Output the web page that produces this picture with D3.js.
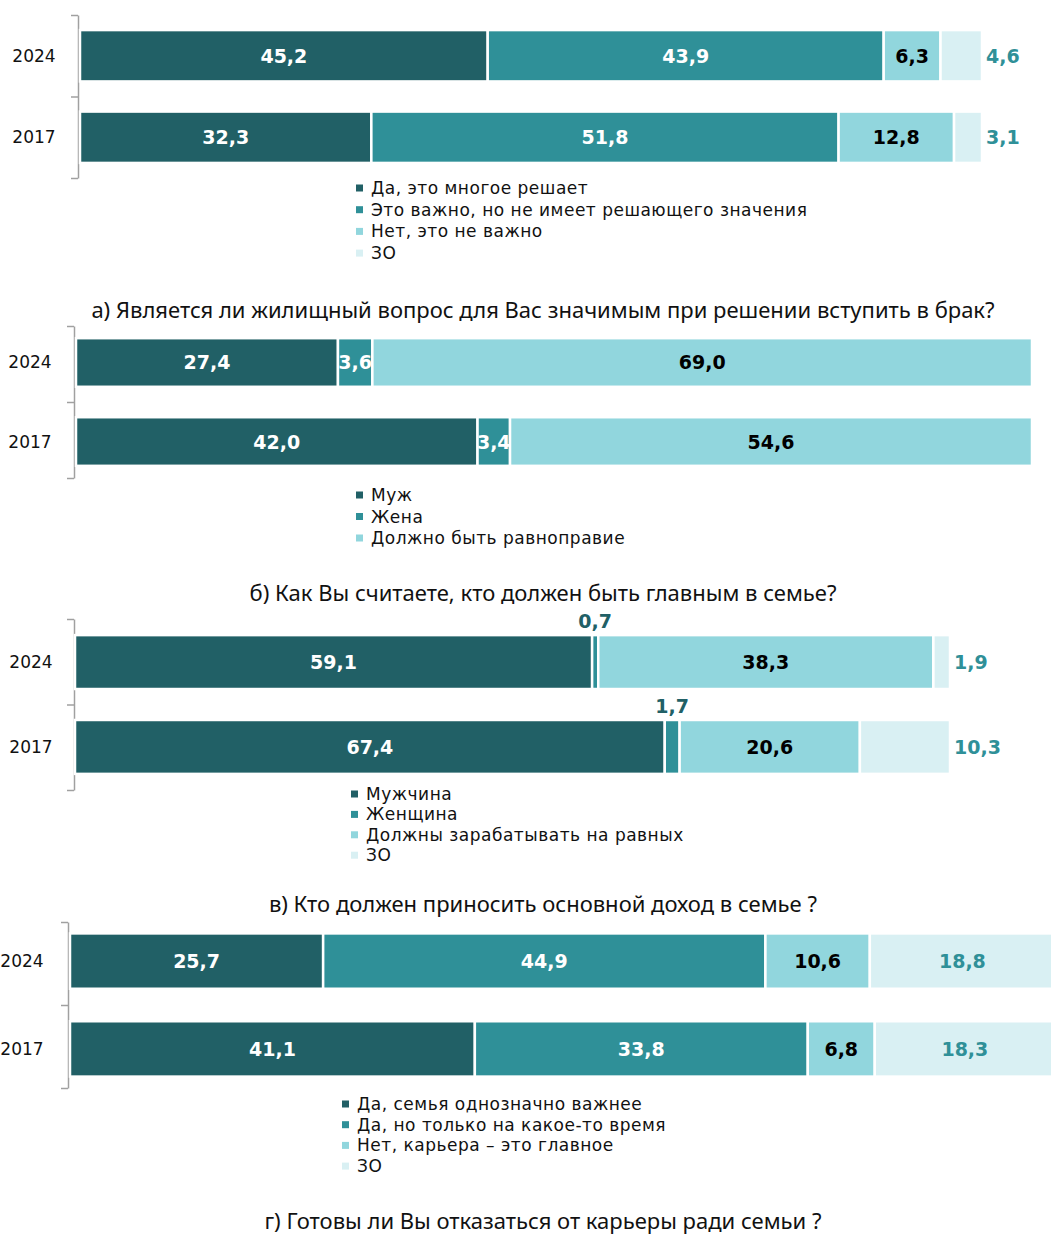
<!DOCTYPE html>
<html>
<head>
<meta charset="utf-8">
<script src="https://cdn.jsdelivr.net/npm/d3@7"></script>
<style>
  body { margin: 0; background: #fff; }
  svg text { font-family: "DejaVu Sans", Verdana, sans-serif; }
  .title { font-family: "Noto Sans", "Open Sans", sans-serif !important; }
</style>
</head>
<body>
<div id="chart"></div>
<script>
const years = ["2024", "2017"];
const colors = ["#216066", "#2f9098", "#91d6dd", "#d9f0f3"];

// panel a
const aTitle = "а) Является ли жилищный вопрос для Вас значимым при решении вступить в брак?";
const aCategories = ["Да, это многое решает", "Это важно, но не имеет решающего значения", "Нет, это не важно", "ЗО"];
const a2024 = [45.2, 43.9, 6.3, 4.6];
const a2017 = [32.3, 51.8, 12.8, 3.1];

// panel b
const bTitle = "б) Как Вы считаете, кто должен быть главным в семье?";
const bCategories = ["Муж", "Жена", "Должно быть равноправие"];
const b2024 = [27.4, 3.6, 69.0];
const b2017 = [42.0, 3.4, 54.6];

// panel c
const cTitle = "в) Кто должен приносить основной доход в семье ?";
const cCategories = ["Мужчина", "Женщина", "Должны зарабатывать на равных", "ЗО"];
const c2024 = [59.1, 0.7, 38.3, 1.9];
const c2017 = [67.4, 1.7, 20.6, 10.3];

// panel d
const dTitle = "г) Готовы ли Вы отказаться от карьеры ради семьи ?";
const dCategories = ["Да, семья однозначно важнее", "Да, но только на какое-то время", "Нет, карьера – это главное", "ЗО"];
const d2024 = [25.7, 44.9, 10.6, 18.8];
const d2017 = [41.1, 33.8, 6.8, 18.3];

const W = 1051, H = 1234;
const svg = d3.select("#chart").append("svg")
  .attr("width", W).attr("height", H);

// label colour per segment index
const labelFill = ["#fff", "#fff", "#000", "#2f9098"];

function panel(cfg) {
  const g = svg.append("g");
  const x = d3.scaleLinear().domain([0, 100]).range([cfg.x0, cfg.x1]);
  const y = d3.scaleBand().domain(years).range([cfg.yTop, cfg.yBot])
    .paddingInner(cfg.pin).paddingOuter(cfg.pout);

  // axis with ticks at band borders
  const yl = d3.scaleLinear().domain([0, 2]).range([cfg.yTop, cfg.yBot]);
  const ax = g.append("g").attr("transform", `translate(${cfg.axisX},0)`)
    .call(d3.axisLeft(yl).tickValues([0, 1, 2]).tickFormat("").tickSize(7).tickSizeOuter(0));
  ax.selectAll("line, path").attr("stroke", "#a0a0a0").attr("stroke-width", 1.5);

  // year labels
  g.selectAll(".yr").data(years).enter().append("text")
    .attr("x", cfg.yearX).attr("y", d => y(d) + y.bandwidth() / 2)
    .attr("text-anchor", "middle").attr("dominant-baseline", "central")
    .attr("font-size", 17).attr("fill", "#111").text(d => d);

  const rows = [cfg.v2024, cfg.v2017];
  rows.forEach((vals, r) => {
    let acc = 0;
    const segs = vals.map((v, i) => { const s = { v, i, start: acc }; acc += v; return s; });
    const yr = years[r];
    const row = g.append("g");
    row.selectAll("rect").data(segs).enter().append("rect")
      .attr("x", d => x(d.start)).attr("y", y(yr))
      .attr("width", d => x(d.start + d.v) - x(d.start))
      .attr("height", y.bandwidth())
      .attr("fill", d => colors[d.i])
      .attr("stroke", "#fff").attr("stroke-width", 2.5);

    row.selectAll("text").data(segs).enter().append("text")
      .attr("font-weight", "bold").attr("font-size", 19)
      .attr("dominant-baseline", "central")
      .each(function(d) {
        const t = d3.select(this);
        const place = cfg.place[d.i];
        const cx = x(d.start + d.v / 2), cy = y(yr) + y.bandwidth() / 2;
        const label = d3.format(".1f")(d.v).replace(".", ",");
        t.text(label);
        if (place === "out") {
          t.attr("x", x(d.start + d.v) + 4).attr("y", cy).attr("text-anchor", "start").attr("fill", labelFill[d.i]);
        } else if (place === "above") {
          t.attr("x", cx).attr("y", y(yr) - 14).attr("text-anchor", "middle").attr("fill", "#216066");
        } else {
          t.attr("x", cx).attr("y", cy).attr("text-anchor", "middle").attr("fill", labelFill[d.i]);
        }
      });
  });

  // legend
  const lg = g.append("g");
  cfg.categories.forEach((c, i) => {
    const ly = cfg.legY + i * cfg.legStep;
    lg.append("rect").attr("x", cfg.legX - 15).attr("y", ly - 3.5)
      .attr("width", 7).attr("height", 7).attr("fill", colors[i]);
    lg.append("text").attr("x", cfg.legX).attr("y", ly)
      .attr("dominant-baseline", "central").attr("font-size", 17)
      .attr("letter-spacing", 0.5)
      .attr("fill", "#111").text(c);
  });

  g.append("text").attr("class", "title")
    .attr("x", 543).attr("y", cfg.titleY)
    .attr("text-anchor", "middle").attr("dominant-baseline", "central")
    .attr("font-size", 22).attr("fill", "#111").text(cfg.title);
}

panel({ title: aTitle, categories: aCategories, v2024: a2024, v2017: a2017,
  x0: 80, x1: 982, axisX: 78, yTop: 15, yBot: 178, pin: 0.37, pout: 0.185, yearX: 34,
  place: ["in", "in", "in", "out"], legX: 371, legY: 188, legStep: 21.7, titleY: 309 });

panel({ title: bTitle, categories: bCategories, v2024: b2024, v2017: b2017,
  x0: 76, x1: 1032, axisX: 74, yTop: 326, yBot: 478, pin: 0.385, pout: 0.154, yearX: 30,
  place: ["in", "in", "in"], legX: 371, legY: 495, legStep: 21.5, titleY: 592 });

panel({ title: cTitle, categories: cCategories, v2024: c2024, v2017: c2017,
  x0: 75, x1: 950, axisX: 74, yTop: 619, yBot: 790, pin: 0.365, pout: 0.19, yearX: 31,
  place: ["in", "above", "in", "out"], legX: 366, legY: 794, legStep: 20.4, titleY: 903 });

panel({ title: dTitle, categories: dCategories, v2024: d2024, v2017: d2017,
  x0: 70, x1: 1055, axisX: 68, yTop: 922, yBot: 1088, pin: 0.37, pout: 0.13, yearX: 22,
  place: ["in", "in", "in", "in"], legX: 357, legY: 1104, legStep: 20.7, titleY: 1220 });
</script>
</body>
</html>
